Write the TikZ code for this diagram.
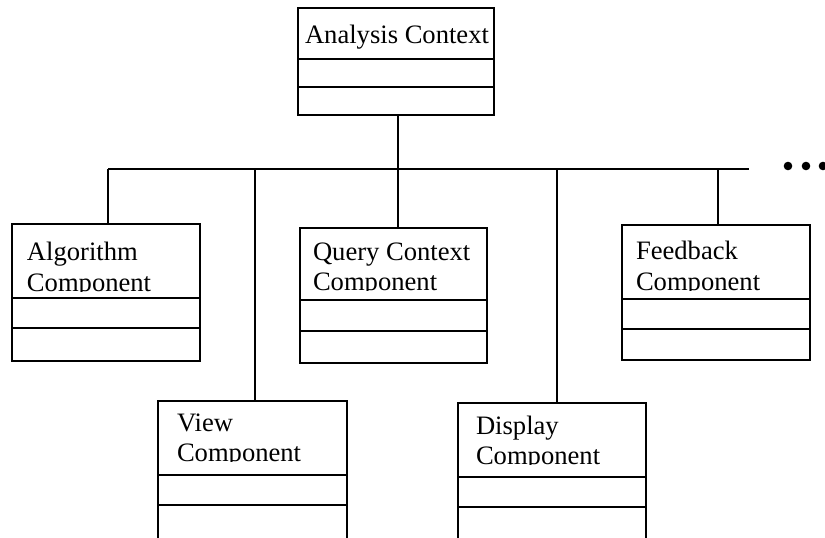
\documentclass[tikz,border=0pt]{standalone}
\usepackage{fontspec}
\setmainfont{Liberation Serif}
\begin{document}
\begin{tikzpicture}[x=1pt,y=-1pt,
  cls/.style={draw, line width=1.9pt, inner sep=0pt, outer sep=0pt, anchor=north west},
  divider/.style={line width=1.9pt},
  wire/.style={line width=1.6pt},
  lbl/.style={anchor=base west, inner sep=0pt, outer sep=0pt,
              font=\fontsize{26.6}{30}\selectfont}]

\useasboundingbox (0,0) rectangle (825,538);
\clip (0,0) rectangle (825,538);

% class box: name, x, y, width, height, first divider y, second divider y
\newcommand\classbox[7]{%
  \node[cls, minimum width=#4pt, minimum height=#5pt] (#1) at (#2,#3) {};
  \draw[divider] (#2,#6) -- ({#2+#4},#6);
  \draw[divider] (#2,#7) -- ({#2+#4},#7);
}

\classbox{ctx}{298}{8}{196}{107}{59}{87}
\classbox{alg}{12}{224}{188}{137}{298}{328}
\classbox{qry}{300}{228}{187}{135}{300}{331}
\classbox{fbk}{622}{225}{188}{135}{299}{329}
\classbox{view}{158}{401}{189}{170}{475}{505}
\classbox{disp}{458}{403}{188}{170}{477}{507}

% class names; the second line is cut off at its baseline
\node[lbl] (ctxT) at (305,43) {Analysis Context};

\begin{scope}
  \clip (14,226) rectangle (198,291.6);
  \node[lbl] (algT1) at (27,260) {Algorithm};
  \node[lbl] (algT2) at (27,291) {Component};
\end{scope}
\begin{scope}
  \clip (302,230) rectangle (485,290.6);
  \node[lbl] (qryT1) at (313,260) {Query Context};
  \node[lbl] (qryT2) at (313,290) {Component};
\end{scope}
\begin{scope}
  \clip (624,227) rectangle (808,290.6);
  \node[lbl] (fbkT1) at (636,259) {Feedback};
  \node[lbl] (fbkT2) at (636,290) {Component};
\end{scope}
\begin{scope}
  \clip (160,403) rectangle (345,461.6);
  \node[lbl] (viewT1) at (177,431) {View};
  \node[lbl] (viewT2) at (177,461) {Component};
\end{scope}
\begin{scope}
  \clip (460,405) rectangle (644,464.6);
  \node[lbl] (dispT1) at (476,434) {Display};
  \node[lbl] (dispT2) at (476,464) {Component};
\end{scope}

% bus and branches
\coordinate (busL) at (108,169);
\coordinate (busR) at (749,169);
\coordinate (jView) at (255,169);
\coordinate (jCtx) at (398,169);
\coordinate (jDisp) at (557,169);
\coordinate (jFbk) at (718,169);

\draw[wire] (busL) -- (busR);
\draw[wire] (jCtx) -- (jCtx |- ctx.south);
\draw[wire] (busL) -- (busL |- alg.north);
\draw[wire] (jView) -- (jView |- view.north);
\draw[wire] (jCtx) -- (jCtx |- qry.north);
\draw[wire] (jDisp) -- (jDisp |- disp.north);
\draw[wire] (jFbk) -- (jFbk |- fbk.north);

% continuation dots
\fill (788,166) circle (4.3);
\fill (806,166) circle (4.3);
\fill (823,166) circle (4.3);

\end{tikzpicture}
\end{document}
